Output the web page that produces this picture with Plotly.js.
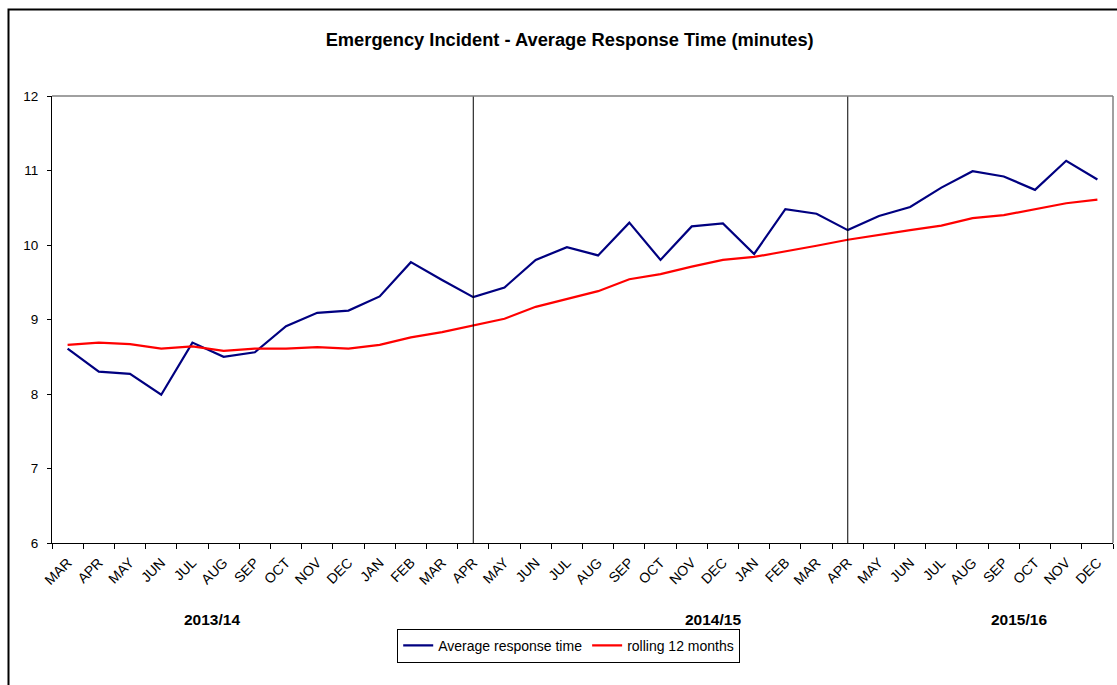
<!DOCTYPE html>
<html>
<head>
<meta charset="utf-8">
<script src="https://cdn.plot.ly/plotly-3.0.1.min.js"></script>
<style>
  html, body { margin: 0; padding: 0; background: #ffffff; }
  #chart { width: 1117px; height: 685px; }
</style>
</head>
<body>
<div id="chart"></div>
<script>
// ---- data ----
var months = ["MAR","APR","MAY","JUN","JUL","AUG","SEP","OCT","NOV","DEC","JAN","FEB",
              "MAR","APR","MAY","JUN","JUL","AUG","SEP","OCT","NOV","DEC","JAN","FEB",
              "MAR","APR","MAY","JUN","JUL","AUG","SEP","OCT","NOV","DEC"];
var avgResponse = [8.61, 8.30, 8.27, 7.99, 8.69, 8.50, 8.56, 8.91, 9.09, 9.12, 9.31, 9.77,
                   9.53, 9.30, 9.43, 9.80, 9.97, 9.86, 10.30, 9.80, 10.25, 10.29, 9.88, 10.48,
                   10.42, 10.20, 10.39, 10.51, 10.77, 10.99, 10.92, 10.74, 11.13, 10.88];
var rolling12 = [8.66, 8.69, 8.67, 8.61, 8.64, 8.58, 8.61, 8.61, 8.63, 8.61, 8.66, 8.76,
                 8.83, 8.92, 9.01, 9.17, 9.28, 9.38, 9.54, 9.61, 9.71, 9.80, 9.84, 9.91,
                 9.99, 10.07, 10.14, 10.20, 10.26, 10.36, 10.40, 10.48, 10.56, 10.61];
var yearLabels = ["2013/14", "2014/15", "2015/16"];
var seriesNames = ["Average response time", "rolling 12 months"];
var chartTitle = "Emergency Incident - Average Response Time (minutes)";

// ---- build ----
var idx = months.map(function (m, i) { return i; });

// dividers at each new financial year start (APR, except the first one)
var dividers = [];
var aprSeen = 0;
months.forEach(function (m, i) {
  if (m === "APR") { aprSeen++; if (aprSeen > 1) dividers.push(i); }
});

var traces = [
  { x: idx, y: avgResponse, type: "scatter", mode: "lines", name: seriesNames[0],
    line: { color: "#000080", width: 2.2 } },
  { x: idx, y: rolling12, type: "scatter", mode: "lines", name: seriesNames[1],
    line: { color: "#ff0000", width: 2.2 } }
];

var shapes = [];
dividers.forEach(function (d) {
  shapes.push({ type: "line", xref: "x", yref: "paper", x0: d, x1: d, y0: 0, y1: 1,
                line: { color: "#000000", width: 1 } });
});
// plot area top & right grey frame
shapes.push({ type: "line", xref: "paper", yref: "paper", x0: 0, x1: 1, y0: 1, y1: 1,
              line: { color: "#808080", width: 1.5 } });
shapes.push({ type: "line", xref: "paper", yref: "paper", x0: 1, x1: 1, y0: 0, y1: 1,
              line: { color: "#808080", width: 1.5 } });
// outer chart frame
shapes.push({ type: "rect", xref: "paper", yref: "paper", x0: -0.041, x1: 1.2, y0: -0.6, y1: 1.1935,
              line: { color: "#000000", width: 2 } });

var yearPos = [0.151, 0.623, 0.911];
var annotations = yearLabels.map(function (t, i) {
  return { text: "<b>" + t + "</b>", xref: "paper", yref: "paper", x: yearPos[i], y: -0.172,
           xanchor: "center", yanchor: "middle", showarrow: false,
           font: { family: "Liberation Sans, Arial, sans-serif", size: 15.5, color: "#000" } };
});

var layout = {
  width: 1117, height: 685,
  margin: { l: 52, r: 4, t: 96, b: 142 },
  paper_bgcolor: "#ffffff", plot_bgcolor: "#ffffff",
  font: { family: "Liberation Sans, Arial, sans-serif", color: "#000" },
  title: { text: "<b>" + chartTitle + "</b>", x: 0.51, xanchor: "center", y: 0.9416, yanchor: "middle",
           font: { size: 18.3, family: "Liberation Sans, Arial, sans-serif", color: "#000" } },
  showlegend: true,
  legend: { orientation: "h", x: 0.487, xanchor: "center", y: -0.23, yanchor: "middle",
            bgcolor: "#ffffff", bordercolor: "#000000", borderwidth: 1,
            font: { size: 14, color: "#000" } },
  xaxis: {
    range: [-0.5, months.length - 0.5],
    tickmode: "array", tickvals: idx, ticktext: months,
    tickangle: -45, ticks: "outside", ticklen: 5, tickcolor: "rgba(0,0,0,0)",
    tickfont: { size: 14 },
    showgrid: false, zeroline: false, showline: true, linecolor: "#000", linewidth: 1,
    minor: { tickmode: "linear", tick0: -0.5, dtick: 1, ticks: "outside", ticklen: 5,
             tickcolor: "#000", showgrid: false },
    fixedrange: true
  },
  yaxis: {
    range: [6, 12], dtick: 1, tick0: 6,
    ticks: "outside", ticklen: 4, tickcolor: "#000",
    tickfont: { size: 13.5 }, ticklabelstandoff: 6,
    showgrid: false, zeroline: false, showline: true, linecolor: "#000", linewidth: 1,
    fixedrange: true
  },
  shapes: shapes,
  annotations: annotations
};

Plotly.newPlot("chart", traces, layout, { displayModeBar: false, staticPlot: true });
</script>
</body>
</html>
